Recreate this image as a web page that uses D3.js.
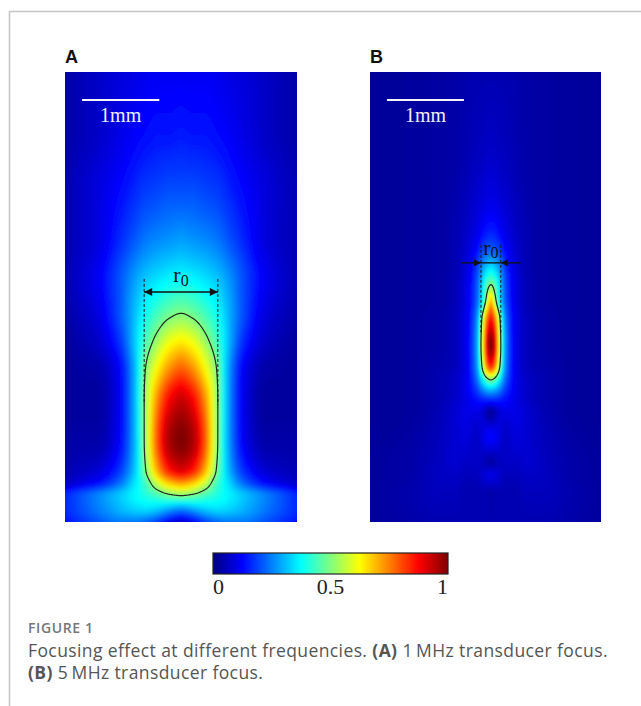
<!DOCTYPE html>
<html>
<head>
<meta charset="utf-8">
<script src="https://cdn.jsdelivr.net/npm/d3@7"></script>
<style>
  body { margin: 0; background: #fff; }
</style>
</head>
<body>
<script>
// jet colour map used by both panels and the colour bar
const jetStops = [0, 0.125, 0.375, 0.625, 0.875, 1];
const jetColors = ["#00007f", "#0000ff", "#00ffff", "#ffff00", "#ff0000", "#7f0000"];
const colorbarTicks = [0, 0.5, 1];

// panel A (1 MHz): lateral positions (mm), depths (mm), normalised pressure
const colsA = [-1.5, -1.1, -0.8, -0.6, -0.47, -0.3, -0.15, 0, 0.15, 0.3, 0.47, 0.6, 0.8, 1.1, 1.5];
const rowsA = [0, 0.75, 1.52, 2.16, 2.68, 3.11, 3.45, 3.84, 4.23, 4.74, 5.13, 5.30, 5.46, 5.64, 5.80];
const fieldA = [
  [0.04,0.07,0.09,0.10,0.11,0.115,0.115,0.115,0.115,0.115,0.11,0.10,0.09,0.07,0.04],
  [0.04,0.07,0.10,0.12,0.13,0.14,0.14,0.145,0.14,0.14,0.13,0.12,0.10,0.07,0.04],
  [0.05,0.09,0.13,0.16,0.18,0.19,0.20,0.20,0.20,0.19,0.18,0.16,0.13,0.09,0.05],
  [0.05,0.09,0.16,0.21,0.24,0.26,0.27,0.28,0.27,0.26,0.24,0.21,0.16,0.09,0.05],
  [0.05,0.11,0.20,0.28,0.32,0.35,0.37,0.38,0.37,0.35,0.32,0.28,0.20,0.11,0.05],
  [0.04,0.09,0.20,0.31,0.38,0.44,0.48,0.50,0.48,0.44,0.38,0.31,0.20,0.09,0.04],
  [0.03,0.07,0.17,0.32,0.43,0.53,0.60,0.63,0.60,0.53,0.43,0.32,0.17,0.07,0.03],
  [0.03,0.04,0.12,0.30,0.49,0.64,0.74,0.79,0.74,0.64,0.49,0.30,0.12,0.04,0.03],
  [0.03,0.03,0.11,0.30,0.51,0.75,0.88,0.93,0.88,0.75,0.51,0.30,0.11,0.03,0.03],
  [0.04,0.04,0.12,0.30,0.51,0.81,0.96,1.00,0.96,0.81,0.51,0.30,0.12,0.04,0.04],
  [0.05,0.08,0.17,0.32,0.48,0.72,0.86,0.91,0.86,0.72,0.48,0.32,0.17,0.08,0.05],
  [0.07,0.13,0.23,0.35,0.43,0.58,0.68,0.72,0.68,0.58,0.43,0.35,0.23,0.13,0.07],
  [0.16,0.25,0.32,0.37,0.40,0.44,0.48,0.50,0.48,0.44,0.40,0.37,0.32,0.25,0.16],
  [0.16,0.24,0.30,0.33,0.34,0.32,0.28,0.25,0.28,0.32,0.34,0.33,0.30,0.24,0.16],
  [0.14,0.20,0.24,0.24,0.22,0.17,0.10,0.07,0.10,0.17,0.22,0.24,0.24,0.20,0.14]
];

// panel B (5 MHz): focus sits slightly right of the panel centre
const colsB = [-1.5, -1.0, -0.6, -0.4, -0.25, -0.12, -0.03, 0.02, 0.07, 0.12, 0.17, 0.26, 0.39, 0.54, 0.74, 1.14, 1.5];
const rowsB = [0, 1.0, 1.65, 2.04, 2.29, 2.49, 2.74, 2.94, 3.20, 3.52, 3.78, 3.97, 4.12, 4.25, 4.39, 4.70, 5.03, 5.19, 5.43, 5.80];
const fieldB = [
  [0.025,0.03,0.035,0.04,0.045,0.05,0.05,0.05,0.05,0.05,0.05,0.05,0.045,0.04,0.035,0.03,0.025],
  [0.025,0.03,0.035,0.04,0.05,0.06,0.065,0.07,0.07,0.07,0.065,0.06,0.05,0.04,0.035,0.03,0.025],
  [0.025,0.03,0.035,0.045,0.06,0.08,0.09,0.10,0.10,0.10,0.09,0.08,0.06,0.045,0.035,0.03,0.025],
  [0.025,0.03,0.035,0.05,0.07,0.10,0.13,0.145,0.15,0.145,0.13,0.10,0.07,0.05,0.035,0.03,0.025],
  [0.025,0.03,0.035,0.05,0.08,0.13,0.19,0.21,0.22,0.21,0.19,0.13,0.08,0.05,0.035,0.03,0.025],
  [0.025,0.03,0.035,0.05,0.09,0.17,0.27,0.31,0.33,0.31,0.27,0.17,0.09,0.05,0.035,0.03,0.025],
  [0.025,0.03,0.035,0.055,0.10,0.20,0.36,0.45,0.50,0.45,0.36,0.20,0.10,0.055,0.035,0.03,0.025],
  [0.025,0.03,0.035,0.055,0.10,0.21,0.40,0.55,0.68,0.55,0.40,0.21,0.10,0.055,0.035,0.03,0.025],
  [0.025,0.03,0.04,0.06,0.11,0.25,0.58,0.78,0.87,0.78,0.58,0.25,0.11,0.06,0.04,0.03,0.025],
  [0.025,0.03,0.04,0.06,0.11,0.27,0.64,0.90,1.00,0.90,0.64,0.27,0.11,0.06,0.04,0.03,0.025],
  [0.025,0.03,0.045,0.06,0.11,0.26,0.57,0.77,0.85,0.77,0.57,0.26,0.11,0.06,0.045,0.03,0.025],
  [0.025,0.03,0.05,0.07,0.11,0.22,0.38,0.46,0.50,0.46,0.38,0.22,0.11,0.07,0.05,0.03,0.025],
  [0.025,0.03,0.05,0.07,0.11,0.17,0.24,0.27,0.28,0.27,0.24,0.17,0.11,0.07,0.05,0.03,0.025],
  [0.025,0.03,0.05,0.075,0.10,0.13,0.14,0.14,0.14,0.14,0.14,0.13,0.10,0.075,0.05,0.03,0.025],
  [0.025,0.03,0.055,0.08,0.10,0.10,0.08,0.05,0.03,0.05,0.08,0.10,0.10,0.08,0.055,0.03,0.025],
  [0.025,0.035,0.06,0.08,0.09,0.07,0.10,0.12,0.13,0.12,0.10,0.07,0.09,0.08,0.06,0.035,0.025],
  [0.03,0.04,0.065,0.08,0.07,0.07,0.06,0.05,0.04,0.05,0.06,0.07,0.07,0.08,0.065,0.04,0.03],
  [0.03,0.04,0.065,0.07,0.06,0.06,0.08,0.09,0.10,0.09,0.08,0.06,0.06,0.07,0.065,0.04,0.03],
  [0.03,0.045,0.06,0.06,0.05,0.05,0.05,0.05,0.04,0.05,0.05,0.05,0.05,0.06,0.06,0.045,0.03],
  [0.03,0.04,0.05,0.05,0.05,0.05,0.05,0.05,0.05,0.05,0.05,0.05,0.05,0.05,0.05,0.04,0.03]
];

// annotation depths (mm): r0 arrow, scale bar, its label
const panelLabels = ["A", "B"];
const arrowDepth = [2.835, 2.46];
const scaleBarStart = -1.28; // mm, bar is 1 mm long
const scaleBarDepth = 0.36;
const scaleTextDepth = 0.64;
const halfMax = 0.5;

const width = 641, height = 706;
const serif = "'Liberation Serif', 'Times New Roman', serif";
const sans = "'Liberation Sans', Arial, sans-serif";

const jet = d3.scaleLinear().domain(jetStops).range(jetColors).clamp(true);
const lut = d3.range(256).map(i => d3.rgb(jet(i / 255)));

const svg = d3.select("body").append("svg")
  .attr("width", width)
  .attr("height", height);

const defs = svg.append("defs");

// article frame lines
svg.append("path")
  .attr("d", `M9.5,${height} V11.5 H${width}`)
  .attr("fill", "none")
  .attr("stroke", "#c4c4c4")
  .attr("stroke-width", 1.5);

defs.append("marker")
  .attr("id", "arrow")
  .attr("viewBox", "0 0 10 10")
  .attr("refX", 10).attr("refY", 5)
  .attr("markerWidth", 9).attr("markerHeight", 8)
  .attr("markerUnits", "userSpaceOnUse")
  .attr("orient", "auto-start-reverse")
  .append("path").attr("d", "M0,0 L10,5 L0,10 z").attr("fill", "#111");

defs.append("marker")
  .attr("id", "arrowSmall")
  .attr("viewBox", "0 0 10 10")
  .attr("refX", 10).attr("refY", 5)
  .attr("markerWidth", 8).attr("markerHeight", 7)
  .attr("markerUnits", "userSpaceOnUse")
  .attr("orient", "auto-start-reverse")
  .append("path").attr("d", "M0,0 L10,5 L0,10 z").attr("fill", "#111");

// monotone cubic (Fritsch-Butland) through the read values, for smooth shading
function monotone(xs, ys) {
  const n = xs.length;
  const h = d3.range(n - 1).map(k => xs[k + 1] - xs[k]);
  const d = d3.range(n - 1).map(k => (ys[k + 1] - ys[k]) / h[k]);
  const m = new Array(n);
  m[0] = d[0]; m[n - 1] = d[n - 2];
  for (let k = 1; k < n - 1; k++) {
    if (d[k - 1] * d[k] <= 0) m[k] = 0;
    else m[k] = 3 * (h[k - 1] + h[k]) / ((2 * h[k] + h[k - 1]) / d[k - 1] + (h[k] + 2 * h[k - 1]) / d[k]);
  }
  return x => {
    x = Math.max(xs[0], Math.min(xs[n - 1], x));
    const k = Math.max(0, Math.min(n - 2, d3.bisectRight(xs, x) - 1));
    const t = (x - xs[k]) / h[k], t2 = t * t, t3 = t2 * t;
    return (2 * t3 - 3 * t2 + 1) * ys[k] + (t3 - 2 * t2 + t) * h[k] * m[k]
      + (-2 * t3 + 3 * t2) * ys[k + 1] + (t3 - t2) * h[k] * m[k + 1];
  };
}

// sample the grid at pixel resolution over [px0, px0+nx) x [py0, py0+ny)
function rasterise(p, xScale, yScale, px0, py0, nx, ny) {
  const rowFns = p.field.map(r => monotone(p.cols, r));
  const out = new Float64Array(nx * ny);
  const ys = d3.range(ny).map(j => yScale.invert(py0 + j + 0.5));
  for (let i = 0; i < nx; i++) {
    const xx = xScale.invert(px0 + i + 0.5);
    const colFn = monotone(p.rows, rowFns.map(fn => fn(xx)));
    for (let j = 0; j < ny; j++) out[j * nx + i] = colFn(ys[j]);
  }
  return out;
}

const panels = [
  { id: "A", cols: colsA, rows: rowsA, field: fieldA, x: [65, 297], y: [72, 522], blur: 2, idx: 0, labelUp: 10, subDy: 4 },
  { id: "B", cols: colsB, rows: rowsB, field: fieldB, x: [370, 601], y: [72, 522], blur: 1, idx: 1, labelUp: 8, subDy: 3 }
];

panels.forEach(p => {
  const xScale = d3.scaleLinear().domain([-1.5, 1.5]).range(p.x);
  const yScale = d3.scaleLinear().domain([0, 5.8]).range(p.y);
  const g = svg.append("g").attr("class", "panel " + p.id);

  // field raster (slightly larger than the panel, blurred, then clipped)
  const m = 8;
  const n = Math.round(p.x[1] - p.x[0]);
  const rr = Math.round(p.y[1] - p.y[0]);
  const cw = n + 2 * m, ch = rr + 2 * m;
  const grid = rasterise(p, xScale, yScale, p.x[0] - m, p.y[0] - m, cw, ch);
  const canvas = document.createElement("canvas");
  canvas.width = cw; canvas.height = ch;
  const ctx = canvas.getContext("2d");
  const img = ctx.createImageData(cw, ch);
  for (let k = 0; k < cw * ch; k++) {
    const c = lut[Math.max(0, Math.min(255, Math.round(grid[k] * 255)))];
    img.data[4 * k] = c.r; img.data[4 * k + 1] = c.g; img.data[4 * k + 2] = c.b; img.data[4 * k + 3] = 255;
  }
  ctx.putImageData(img, 0, 0);

  defs.append("filter").attr("id", "blur" + p.id)
    .attr("x", "-5%").attr("y", "-5%").attr("width", "110%").attr("height", "110%")
    .append("feGaussianBlur").attr("stdDeviation", p.blur);
  defs.append("clipPath").attr("id", "clip" + p.id)
    .append("rect")
    .attr("x", p.x[0]).attr("y", p.y[0])
    .attr("width", p.x[1] - p.x[0]).attr("height", p.y[1] - p.y[0]);

  g.append("g").attr("clip-path", `url(#clip${p.id})`)
    .append("image")
    .attr("href", canvas.toDataURL())
    .attr("x", p.x[0] - m).attr("y", p.y[0] - m)
    .attr("width", cw).attr("height", ch)
    .attr("preserveAspectRatio", "none")
    .attr("filter", `url(#blur${p.id})`);

  // half-maximum contour, from the inner part of the same raster
  const values = new Array(n * rr);
  for (let j = 0; j < rr; j++)
    for (let i = 0; i < n; i++) values[j * n + i] = grid[(j + m) * cw + i + m];
  const contour = d3.contours().size([n, rr]).thresholds([halfMax])(values)[0];
  const path = d3.geoPath(d3.geoIdentity().translate([p.x[0], p.y[0]]));
  g.append("path")
    .attr("d", path(contour))
    .attr("fill", "none")
    .attr("stroke", "#1e2a1e")
    .attr("stroke-width", 1.2);

  const b = path.bounds(contour);
  const xl = b[0][0], xr = b[1][0];
  const cx = (xl + xr) / 2;
  // depth where the contour is widest
  let wideY = b[0][1];
  contour.coordinates.forEach(poly => poly.forEach(ring => ring.forEach(pt => {
    if (pt[0] + p.x[0] <= xl + 0.6) wideY = Math.max(wideY, pt[1] + p.y[0]);
  })));
  wideY = Math.min(wideY, (b[0][1] + b[1][1]) / 2);

  const ay = yScale(arrowDepth[p.idx]);
  const dashTop = p.id === "A" ? ay - 13 : ay - 18;
  [xl, xr].forEach(x => {
    g.append("line")
      .attr("x1", x).attr("x2", x)
      .attr("y1", dashTop).attr("y2", wideY)
      .attr("stroke", "#1a1a1a")
      .attr("stroke-width", 1)
      .attr("stroke-dasharray", "3,2");
  });

  if (p.id === "A") {
    g.append("line")
      .attr("x1", xl).attr("x2", xr).attr("y1", ay).attr("y2", ay)
      .attr("stroke", "#111").attr("stroke-width", 1.6)
      .attr("marker-start", "url(#arrow)")
      .attr("marker-end", "url(#arrow)");
  } else {
    g.append("line")
      .attr("x1", xl).attr("x2", xr).attr("y1", ay).attr("y2", ay)
      .attr("stroke", "#111").attr("stroke-width", 1.3);
    g.append("line")
      .attr("x1", xl - 20).attr("x2", xl).attr("y1", ay).attr("y2", ay)
      .attr("stroke", "#111").attr("stroke-width", 1.3)
      .attr("marker-end", "url(#arrowSmall)");
    g.append("line")
      .attr("x1", xr + 20).attr("x2", xr).attr("y1", ay).attr("y2", ay)
      .attr("stroke", "#111").attr("stroke-width", 1.3)
      .attr("marker-end", "url(#arrowSmall)");
  }

  const r0 = g.append("text")
    .attr("x", cx)
    .attr("y", ay - p.labelUp)
    .attr("text-anchor", "middle")
    .style("font-family", serif)
    .style("font-size", "22px")
    .attr("fill", "#111");
  r0.append("tspan").text("r");
  r0.append("tspan").attr("dy", p.subDy).style("font-size", "16px").text("0");

  // 1 mm scale bar
  g.append("line")
    .attr("x1", xScale(scaleBarStart)).attr("x2", xScale(scaleBarStart + 1))
    .attr("y1", yScale(scaleBarDepth)).attr("y2", yScale(scaleBarDepth))
    .attr("stroke", "#f4f4f8").attr("stroke-width", 2);
  g.append("text")
    .attr("x", xScale(scaleBarStart + 0.5))
    .attr("y", yScale(scaleTextDepth))
    .attr("text-anchor", "middle")
    .style("font-family", serif)
    .style("font-size", "20px")
    .attr("fill", "#eef0f6")
    .text("1mm");

  // panel letter
  svg.append("text")
    .attr("x", p.x[0])
    .attr("y", 63)
    .style("font-family", sans)
    .style("font-weight", "bold")
    .style("font-size", "18px")
    .attr("fill", "#111")
    .text(panelLabels[p.idx]);
});

// colour bar
const cbScale = d3.scaleLinear().domain([0, 1]).range([213, 448]);
const grad = defs.append("linearGradient").attr("id", "jetGrad");
grad.selectAll("stop")
  .data(d3.range(0, 1.0001, 0.025))
  .join("stop")
  .attr("offset", d => d)
  .attr("stop-color", d => jet(d));

svg.append("rect")
  .attr("x", cbScale(0)).attr("y", 553)
  .attr("width", cbScale(1) - cbScale(0)).attr("height", 21)
  .attr("fill", "url(#jetGrad)")
  .attr("stroke", "#222").attr("stroke-width", 1.2);

svg.selectAll(".cbtick")
  .data(colorbarTicks)
  .join("text")
  .attr("class", "cbtick")
  .attr("x", d => cbScale(d))
  .attr("y", 594)
  .attr("text-anchor", (d, i) => i === 0 ? "start" : (i === colorbarTicks.length - 1 ? "end" : "middle"))
  .style("font-family", serif)
  .style("font-size", "22px")
  .attr("fill", "#222")
  .text(d => d);

// caption
const capFont = "'Open Sans', 'Noto Sans', sans-serif";
svg.append("text")
  .attr("x", 28).attr("y", 633)
  .style("font-family", capFont)
  .style("font-size", "14px")
  .style("font-weight", 600)
  .style("letter-spacing", "0.6px")
  .attr("fill", "#767676")
  .text("FIGURE 1");

const line1 = svg.append("text")
  .attr("x", 28).attr("y", 657)
  .style("font-family", capFont)
  .style("font-size", "17.5px")
  .style("letter-spacing", "0.4px")
  .attr("fill", "#555");
line1.append("tspan").text("Focusing effect at different frequencies. ");
line1.append("tspan").style("font-weight", 700).text("(A)");
line1.append("tspan").text(" 1\u2009MHz transducer focus.");

const line2 = svg.append("text")
  .attr("x", 28).attr("y", 679)
  .style("font-family", capFont)
  .style("font-size", "17.5px")
  .style("letter-spacing", "0.4px")
  .attr("fill", "#555");
line2.append("tspan").style("font-weight", 700).text("(B)");
line2.append("tspan").text(" 5\u2009MHz transducer focus.");
</script>
</body>
</html>
